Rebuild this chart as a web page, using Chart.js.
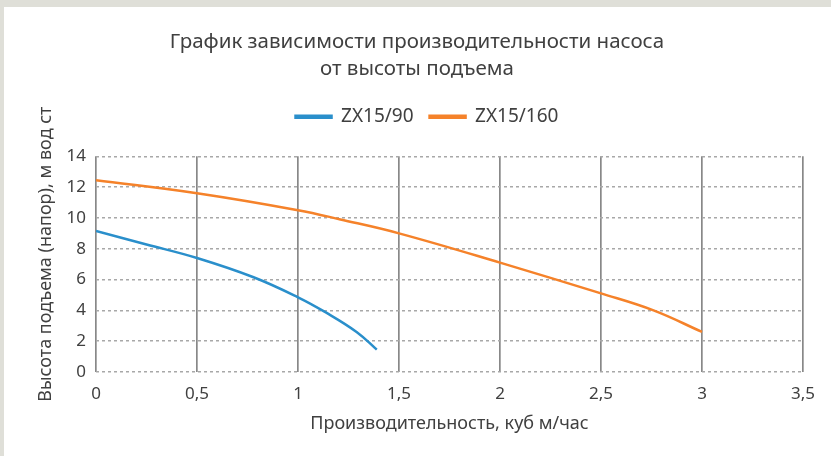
<!DOCTYPE html>
<html>
<head>
<meta charset="utf-8">
<script src="https://cdn.jsdelivr.net/npm/chart.js@4"></script>
<style>
  html, body { margin: 0; padding: 0; }
  body { background: #dfdfd8; width: 831px; height: 456px; overflow: hidden; }
  #wrap { position: absolute; left: 4px; top: 7px; width: 827px; height: 449px; background: #fff; }
</style>
</head>
<body>
<div id="wrap"><canvas id="myChart" width="827" height="449"></canvas></div>
<script>
// Производительность (куб м/час) и напор (м вод ст)
const flow90 = [0, 0.25, 0.5, 0.78, 1.0, 1.14, 1.29, 1.39];
const head90 = [9.15, 8.28, 7.4, 6.15, 4.85, 3.85, 2.6, 1.45];

const flow160 = [0, 0.5, 1.0, 1.21, 1.5, 2.0, 2.5, 2.76, 3.0];
const head160 = [12.45, 11.6, 10.5, 9.9, 9.0, 7.1, 5.1, 4.0, 2.6];

const seriesNames = ['ZX15/90', 'ZX15/160'];
const seriesColors = ['#2a8fcb', '#f5822a'];

const textColor = '#404040';
const fontFamily = '"Noto Sans", sans-serif';

function toPoints(xs, ys) {
    return xs.map((x, i) => ({ x: x, y: ys[i] }));
}

// пустое место под легендой, сдвиг легенды вправо и подписи оси Y вверх
const layoutTweak = {
    id: 'layoutTweak',
    beforeLayout(chart) {
        const lg = chart.legend;
        if (lg && !lg._gapPatched) {
            const fit = lg.fit.bind(lg);
            lg.fit = function () {
                fit();
                this.height += 20;
            };
            lg._gapPatched = true;
        }
    },
    afterLayout(chart) {
        chart.legend.left += 20;
        const ys = chart.scales.y;
        if (ys && !ys._titlePatched) {
            const drawTitle = ys.drawTitle.bind(ys);
            ys.drawTitle = function () {
                const c = this.ctx;
                c.save();
                c.translate(0, -10);
                drawTitle();
                c.restore();
            };
            ys._titlePatched = true;
        }
    }
};

const ctx = document.getElementById('myChart').getContext('2d');

const myChart = new Chart(ctx, {
    type: 'line',
    data: {
        datasets: [
            {
                label: seriesNames[0],
                data: toPoints(flow90, head90),
                borderColor: seriesColors[0],
                backgroundColor: seriesColors[0],
                borderWidth: 2.5,
                pointRadius: 0,
                tension: 0.4
            },
            {
                label: seriesNames[1],
                data: toPoints(flow160, head160),
                borderColor: seriesColors[1],
                backgroundColor: seriesColors[1],
                borderWidth: 2.5,
                pointRadius: 0,
                tension: 0.4
            }
        ]
    },
    plugins: [layoutTweak],
    options: {
        responsive: false,
        animation: false,
        layout: { padding: { left: 27, right: 28, top: 0, bottom: 17 } },
        plugins: {
            title: {
                display: true,
                text: ['График зависимости производительности насоса', 'от высоты подъема'],
                color: textColor,
                font: { family: fontFamily, size: 20.5, weight: 'normal', lineHeight: 1.3 },
                padding: { top: 22, bottom: 9 }
            },
            legend: {
                display: true,
                labels: {
                    color: textColor,
                    font: { family: fontFamily, size: 19 },
                    boxWidth: 36,
                    boxHeight: 2,
                    padding: 16
                }
            },
            tooltip: { enabled: false }
        },
        scales: {
            x: {
                type: 'linear',
                min: 0,
                max: 3.5,
                ticks: {
                    stepSize: 0.5,
                    color: textColor,
                    font: { family: fontFamily, size: 17 },
                    padding: 12,
                    callback: v => String(v).replace('.', ',')
                },
                grid: { color: '#888888', lineWidth: 1.7, drawTicks: false },
                border: { display: false },
                title: {
                    display: true,
                    text: 'Производительность, куб м/час',
                    color: textColor,
                    font: { family: fontFamily, size: 18 },
                    padding: { top: 8 }
                },
                afterFit: scale => { scale.height = 67; }
            },
            y: {
                min: 0,
                max: 14,
                ticks: {
                    stepSize: 2,
                    color: textColor,
                    font: { family: fontFamily, size: 17 },
                    padding: 10
                },
                grid: { color: '#a8a8a8', lineWidth: 1.5, drawTicks: false },
                border: { display: false, dash: [3, 3] },
                title: {
                    display: true,
                    text: 'Высота подъема (напор), м вод ст',
                    color: textColor,
                    font: { family: fontFamily, size: 18 },
                    padding: { bottom: 6 }
                },
                afterFit: scale => { scale.width = 65; }
            }
        }
    }
});
</script>
</body>
</html>
